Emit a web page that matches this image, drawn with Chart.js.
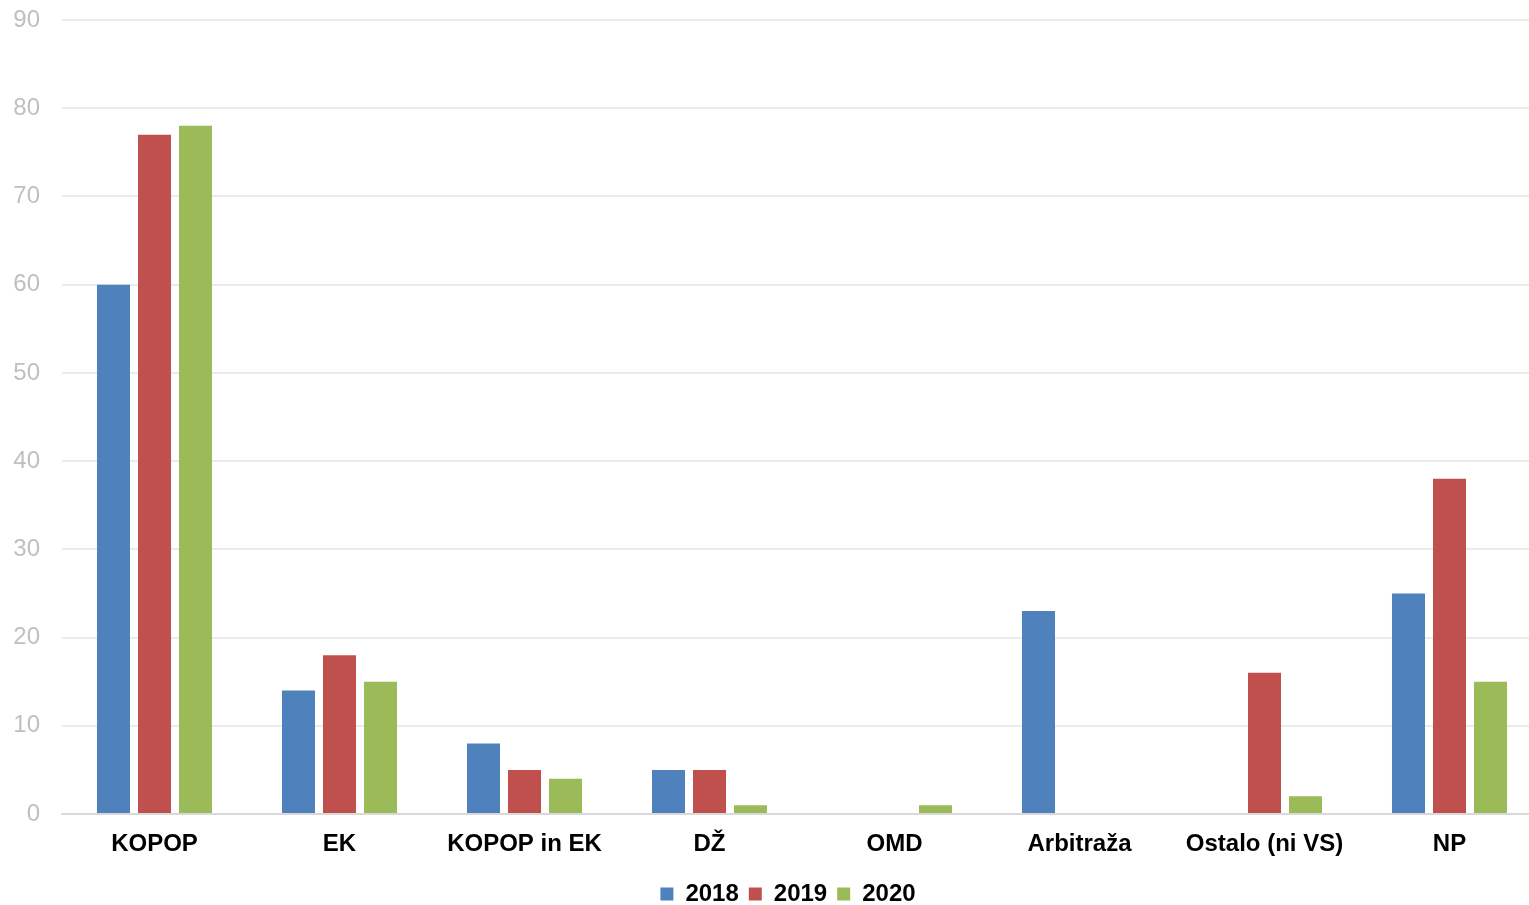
<!DOCTYPE html>
<html>
<head>
<meta charset="utf-8">
<script src="https://cdn.jsdelivr.net/npm/chart.js@4"></script>
<style>
  html, body { margin: 0; padding: 0; background: #fff; overflow: hidden; }
  /* plot area runs a little past the right edge of the window, as in the original */
  #wrap { width: 1542px; height: 905px; }
</style>
</head>
<body>
<div id="wrap"><canvas id="myChart"></canvas></div>
<script>
// data
const categories = ['KOPOP', 'EK', 'KOPOP in EK', 'DŽ', 'OMD', 'Arbitraža', 'Ostalo (ni VS)', 'NP'];
const values2018 = [60, 14, 8, 5, 0, 23, 0, 25];
const values2019 = [77, 18, 5, 5, 0, 0, 16, 38];
const values2020 = [78, 15, 4, 1, 1, 0, 2, 15];
const yTicks = [0, 10, 20, 30, 40, 50, 60, 70, 80, 90];

const font = "'Liberation Sans', Arial, sans-serif";

const ctx = document.getElementById('myChart').getContext('2d');
const myChart = new Chart(ctx, {
    type: 'bar',
    data: {
        labels: categories,
        datasets: [
            { label: '2018', data: values2018, backgroundColor: '#4F81BD' },
            { label: '2019', data: values2019, backgroundColor: '#C0504D' },
            { label: '2020', data: values2020, backgroundColor: '#9BBB59' }
        ]
    },
    options: {
        responsive: true,
        maintainAspectRatio: false,
        animation: false,
        // negative right padding only nudges the legend to the right
        layout: { padding: { left: 0, right: -34, top: 0, bottom: -11 } },
        datasets: {
            bar: { categoryPercentage: 0.665, barPercentage: 0.805, borderWidth: 0 }
        },
        plugins: {
            tooltip: { enabled: false },
            legend: {
                position: 'bottom',
                labels: {
                    color: '#000',
                    font: { family: font, size: 24, weight: 'bold' },
                    boxWidth: 13,
                    boxHeight: 13,
                    padding: 10
                }
            }
        },
        scales: {
            x: {
                grid: { display: false },
                border: { color: '#d9d9d9', width: 2 },
                ticks: {
                    color: '#000',
                    font: { family: font, size: 24, weight: 'bold' },
                    padding: 8
                },
                afterFit: axis => { axis.height = 58; }
            },
            y: {
                min: 0,
                max: 90,
                afterBuildTicks: axis => { axis.ticks = yTicks.map(v => ({ value: v })); },
                grid: { color: '#ebebeb', lineWidth: 2, drawTicks: false },
                border: { display: false },
                ticks: {
                    color: '#bfbfbf',
                    font: { family: font, size: 24 },
                    padding: 22
                },
                afterFit: axis => {
                    axis.width = 62;
                    axis.paddingTop = 20;
                    axis.paddingBottom = 0;
                }
            }
        }
    }
});
</script>
</body>
</html>
